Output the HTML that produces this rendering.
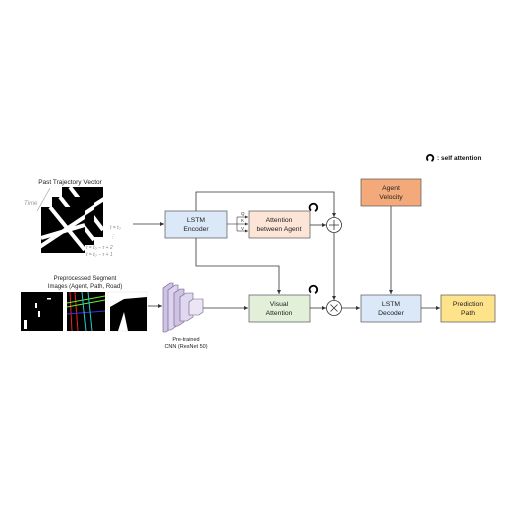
<!DOCTYPE html>
<html><head><style>body{margin:0;background:#fff}svg{display:block}text{font-family:"Liberation Sans",sans-serif}</style></head><body>
<svg width="512" height="513" viewBox="0 0 512 513" xmlns="http://www.w3.org/2000/svg">
<defs>
<marker id="a" markerWidth="6" markerHeight="6" refX="5" refY="3" orient="auto"><path d="M0,0.5 L5,3 L0,5.5 z" fill="#333"/></marker>
<clipPath id="c1"><rect x="62" y="187" width="41" height="50"/></clipPath>
<clipPath id="c2"><rect x="52" y="197" width="42" height="48"/></clipPath>
<clipPath id="c3"><rect x="41" y="207" width="44" height="46"/></clipPath>
</defs>
<text x="70" y="184" font-size="6.5" text-anchor="middle" fill="#222">Past Trajectory Vector</text>
<text x="24" y="205" font-size="6" fill="#999" font-family="Liberation Serif" font-style="italic">Time</text>
<line x1="37" y1="211" x2="50" y2="188" stroke="#999" stroke-width="0.6"/>
<g clip-path="url(#c1)"><rect x="62" y="187" width="41" height="50" fill="#000"/><path d="M55,230 L110,195 M70,187 L103,230" stroke="#fff" stroke-width="4"/></g>
<g clip-path="url(#c2)"><rect x="52" y="197" width="42" height="48" fill="#000"/><path d="M45,240 L100,203 M60,197 L94,240" stroke="#fff" stroke-width="4"/></g>
<g clip-path="url(#c3)"><rect x="41" y="207" width="44" height="46" fill="#000"/><path d="M35,250 L92,212 M50,207 L85,250 M41,238 L85,225" stroke="#fff" stroke-width="4"/></g>
<g font-size="5" fill="#888" font-family="Liberation Serif" font-style="italic">
<text x="110" y="229">t = t₀</text><text x="110" y="238">⋮</text>
<text x="86" y="249">t = t₀ − τ + 2</text><text x="86" y="256">t = t₀ − τ + 1</text></g>
<line x1="133" y1="224" x2="164" y2="224" stroke="#333" stroke-width="0.8" marker-end="url(#a)"/>
<text x="85" y="280" font-size="6" text-anchor="middle" fill="#222">Preprocessed Segment</text>
<text x="85" y="288" font-size="6" text-anchor="middle" fill="#222">Images (Agent, Path, Road)</text>
<rect x="21" y="292" width="42" height="39" fill="#000"/>
<g fill="#fff"><rect x="35" y="303" width="2" height="5"/><rect x="38" y="311" width="2" height="6"/><rect x="24" y="320" width="3" height="9"/><rect x="47" y="298" width="4" height="1.5"/></g>
<rect x="67" y="292" width="38" height="39" fill="#000"/>
<g stroke-width="1"><line x1="70" y1="292" x2="72" y2="331" stroke="#e22"/><line x1="75" y1="292" x2="78" y2="331" stroke="#e22"/><line x1="67" y1="303" x2="105" y2="296" stroke="#6e3"/><line x1="67" y1="307" x2="105" y2="300" stroke="#6e3"/><line x1="67" y1="314" x2="105" y2="311" stroke="#33d"/><line x1="82" y1="292" x2="86" y2="331" stroke="#2cc"/><line x1="88" y1="292" x2="92" y2="331" stroke="#2cc"/></g>
<rect x="108" y="292" width="39" height="39" fill="#fff" stroke="#ccc" stroke-width="0.3"/>
<path d="M124,299 L147,297 L147,331 L128,331 L124,312 L118,331 L110,331 L110,307 Z" fill="#000"/>
<line x1="148" y1="306" x2="162" y2="306" stroke="#333" stroke-width="0.8" marker-end="url(#a)"/>
<g stroke="#6a5a88" stroke-width="0.6">
<polygon points="163,288 170,283 173,283 173,327 166,332 163,332" fill="#cfc3e3"/>
<polygon points="168,290 175,285 178,285 178,325 171,330 168,330" fill="#ddd3ec"/>
<polygon points="174,293 180,289 184,289 184,322 178,326 174,326" fill="#cfc3e3"/>
<polygon points="180,297 186,293 193,293 193,317 187,321 180,321" fill="#e0d8ee"/>
<polygon points="189,302 193,299 203,299 203,312 199,315 189,315" fill="#ece6f4"/></g>
<text x="186" y="341" font-size="5.5" text-anchor="middle" fill="#222">Pre-trained</text>
<text x="186" y="348" font-size="5.5" text-anchor="middle" fill="#222">CNN (ResNet 50)</text>
<line x1="203" y1="308" x2="248" y2="308" stroke="#333" stroke-width="0.8" marker-end="url(#a)"/>
<g stroke="#555" stroke-width="0.7">
<rect x="165" y="211" width="62" height="27" fill="#dae8f7"/>
<rect x="249" y="211" width="61" height="27" fill="#fce4d6"/>
<rect x="361" y="179" width="60" height="27" fill="#f4a97a"/>
<rect x="249" y="295" width="61" height="27" fill="#e2efd9"/>
<rect x="361" y="295" width="60" height="27" fill="#dae8f7"/>
<rect x="441" y="295" width="54" height="27" fill="#ffe38a"/>
</g>
<g font-size="6.8" text-anchor="middle" fill="#222">
<text x="196" y="222">LSTM</text><text x="196" y="231">Encoder</text>
<text x="279" y="222">Attention</text><text x="279" y="231">between Agent</text>
<text x="391" y="190">Agent</text><text x="391" y="199">Velocity</text>
<text x="279" y="306">Visual</text><text x="279" y="315">Attention</text>
<text x="391" y="306">LSTM</text><text x="391" y="315">Decoder</text>
<text x="468" y="306">Prediction</text><text x="468" y="315">Path</text></g>
<g stroke="#333" stroke-width="0.6" fill="none">
<line x1="227" y1="224" x2="237" y2="224"/>
<path d="M237,217 L237,231"/>
<line x1="237" y1="217" x2="248" y2="217" marker-end="url(#a)"/>
<line x1="237" y1="224" x2="248" y2="224" marker-end="url(#a)"/>
<line x1="237" y1="231" x2="248" y2="231" marker-end="url(#a)"/></g>
<g font-size="4.5" fill="#333"><text x="241" y="215">Q</text><text x="241" y="222">K</text><text x="241" y="230">V</text></g>
<g stroke="#333" stroke-width="0.8" fill="none">
<path d="M196,211 L196,192 L334,192 L334,217" marker-end="url(#a)"/>
<line x1="310" y1="225" x2="326" y2="225" marker-end="url(#a)"/>
<line x1="334" y1="233" x2="334" y2="300" marker-end="url(#a)"/>
<path d="M196,238 L196,266 L279,266 L279,294" marker-end="url(#a)"/>
<line x1="310" y1="308" x2="326" y2="308" marker-end="url(#a)"/>
<line x1="342" y1="308" x2="360" y2="308" marker-end="url(#a)"/>
<line x1="391" y1="206" x2="391" y2="294" marker-end="url(#a)"/>
<line x1="421" y1="308" x2="440" y2="308" marker-end="url(#a)"/>
<circle cx="334" cy="225" r="7.5" fill="#fff"/>
<path d="M329,225 H339 M334,220 V230"/>
<circle cx="334" cy="308" r="7.5" fill="#fff"/>
<path d="M330.5,304.5 L337.5,311.5 M337.5,304.5 L330.5,311.5"/>
</g>
<g stroke="#000" stroke-width="1.8" fill="none">
<path d="M311,210.5 A3.8,3.8 0 1 1 315,211"/>
<path d="M311,292.5 A3.8,3.8 0 1 1 315,293"/>
<path d="M428,160.5 A3.2,3.2 0 1 1 431.5,161"/></g>
<text x="437" y="160" font-size="6.5" font-weight="bold" fill="#111">: self attention</text>
</svg>
</body></html>
